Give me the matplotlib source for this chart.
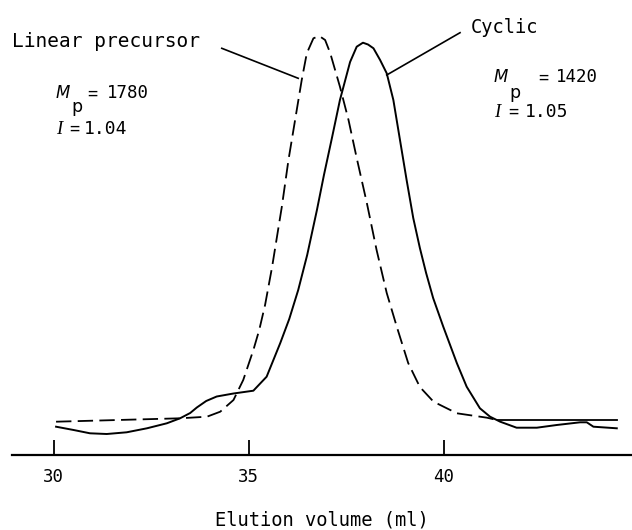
import matplotlib.pyplot as plt

# Elution curves (height above the baseline axis, arbitrary units)
cyclic_x = [30.06, 30.51, 30.93, 31.36, 31.87, 32.39, 32.90, 33.24, 33.50, 33.67, 33.91,
            34.18, 34.61, 35.12, 35.46, 35.81, 36.04, 36.27, 36.50, 36.75, 36.93, 37.14,
            37.34, 37.60, 37.77, 37.93, 38.06, 38.20, 38.37, 38.54, 38.71, 38.88, 39.05,
            39.22, 39.39, 39.55, 39.73, 39.99, 40.34, 40.59, 40.93, 41.19, 41.45, 41.87,
            42.39, 42.90, 43.50, 43.67, 43.84, 44.44]
cyclic_y = [28.3, 25, 21.7, 21, 22.7, 26.7, 31.7, 36.7, 42, 47.5, 54,
            58.5, 61.5, 64.3, 78.3, 112, 136, 165, 200, 245, 280, 318,
            355, 393, 408.3, 412.3, 410.5, 406.7, 395, 381.7, 355, 315, 275,
            237, 207, 182, 157, 128.3, 91.7, 68.3, 46.7, 38.3, 33.3, 27.3,
            27.3, 30, 32.7, 32.7, 28.3, 26.7]

linear_x = [30.06, 33.24, 33.93, 34.27, 34.61, 34.86, 35.12, 35.27, 35.42, 35.60, 35.85,
            36.02, 36.19, 36.36, 36.49, 36.66, 36.81, 36.96, 37.09, 37.34, 37.56, 37.77,
            38.03, 38.28, 38.54, 38.80, 39.09, 39.39, 39.74, 40.34, 41.11, 41.40]
linear_y = [33.3, 36.7, 38.3, 43.3, 55, 75, 105, 125, 150, 188, 248.3,
            295, 335, 375, 401.7, 416.7, 419, 415, 402, 368.3, 335, 297,
            252, 205, 162, 128, 92, 68, 53.3, 41.7, 37.3, 34.7]

# baseline of the linear precursor on the right, drawn solid in the original
linear_tail_x = [41.40, 44.44]
linear_tail_y = [34.7, 34.7]

xticks = [30, 35, 40]

W, H = 632, 530
mono = 'DejaVu Sans Mono'
fig = plt.figure(figsize=(W / 100, H / 100), dpi=100)
ax = fig.add_axes([12 / W, (H - 455) / H, 1 - 12 / W, 435 / H])

ax.plot(cyclic_x, cyclic_y, color='black', lw=1.4)
ax.plot(linear_x, linear_y, color='black', lw=1.3, dashes=(8.5, 3.5))
ax.plot(linear_tail_x, linear_tail_y, color='black', lw=1.3)

# leader lines to the labels
ax.plot([34.31, 36.27], [406.7, 376.7], color='black', lw=1.2, clip_on=False)
ax.plot([40.42, 38.54], [422.3, 380], color='black', lw=1.2, clip_on=False)

ax.set_xlim(28.93, 44.83)
ax.set_ylim(0, 435)
for s in ['top', 'right', 'left']:
    ax.spines[s].set_visible(False)
ax.spines['bottom'].set_linewidth(1.6)
ax.set_yticks([])
ax.set_xticks(xticks)
ax.set_xticklabels([str(t) for t in xticks], family=mono)
ax.tick_params(axis='x', direction='in', length=11, width=1.3, pad=9, labelsize=12.5)
ax.set_xlabel('Elution volume (ml)', fontsize=13.5, labelpad=18, family=mono)


def ft(px, py, s, **kw):
    kw.setdefault('family', mono)
    fig.text(px / W, 1 - py / H, s, va='baseline', ha='left', **kw)


ft(12, 46.7, 'Linear precursor', fontsize=14)
ft(471, 33.3, 'Cyclic', fontsize=13.5)

# left block: Mp = 1780, I = 1.04
ft(56, 98.3, 'M', fontsize=12, style='italic', family='DejaVu Sans')
ft(71, 112, 'p', fontsize=12.5, family='DejaVu Sans')
ft(87, 98.3, '=', fontsize=12)
ft(107, 98.3, '1780', fontsize=12.5)
ft(56, 134, 'I', fontsize=13.5, style='italic', family='Liberation Serif')
ft(69, 134, '=', fontsize=12)
ft(84, 134, '1.04', fontsize=13)

# right block: Mp = 1420, I = 1.05
ft(494, 82.3, 'M', fontsize=12, style='italic', family='DejaVu Sans')
ft(509, 98, 'p', fontsize=12.5, family='DejaVu Sans')
ft(538, 82.3, '=', fontsize=12)
ft(556, 82.3, '1420', fontsize=12.5)
ft(494, 116.7, 'I', fontsize=13.5, style='italic', family='Liberation Serif')
ft(508, 116.7, '=', fontsize=12)
ft(525, 116.7, '1.05', fontsize=13)

fig.savefig('out.png', dpi=100)
